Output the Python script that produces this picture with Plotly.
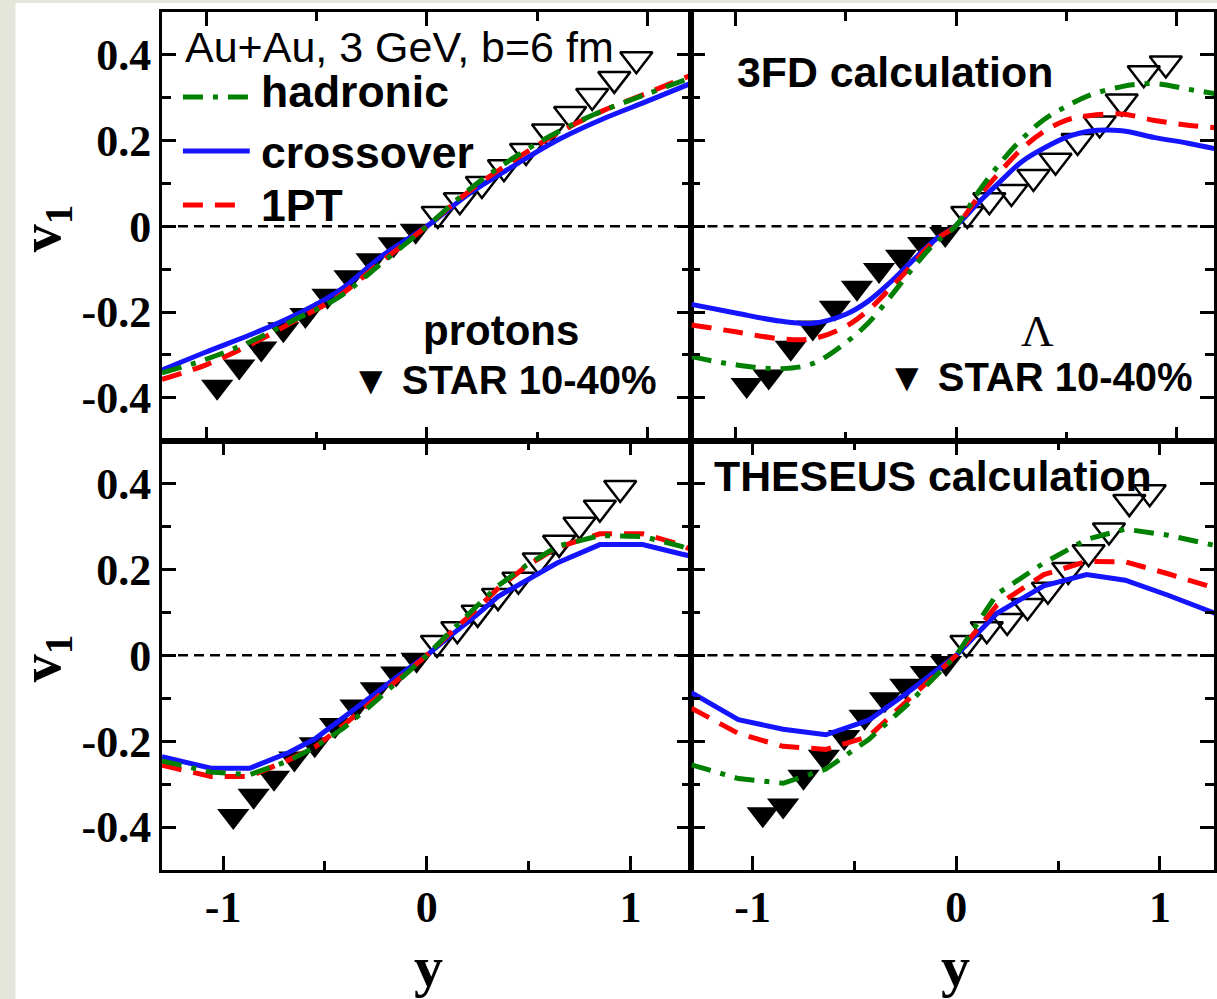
import plotly.graph_objects as go

# ---------------- data ----------------
star_x_neg = [-0.95, -0.85, -0.75, -0.65, -0.55, -0.45, -0.35, -0.25, -0.15, -0.05]
star_x_pos = [0.05, 0.15, 0.25, 0.35, 0.45, 0.55, 0.65, 0.75, 0.85, 0.95]
p_star_neg = [-0.374, -0.327, -0.285, -0.240, -0.207, -0.162, -0.119, -0.079, -0.042, -0.010]
p_star_pos = [0.029, 0.061, 0.099, 0.138, 0.176, 0.221, 0.262, 0.304, 0.344, 0.390]
l_star_neg = [-0.370, -0.350, -0.283, -0.236, -0.190, -0.143, -0.102, -0.071, -0.041, -0.018]
l_star_pos = [0.029, 0.061, 0.080, 0.115, 0.153, 0.199, 0.240, 0.291, 0.357, 0.380]

# 3FD, protons
x_3fd_p = [-1.2, -1.0, -0.8, -0.6, -0.4, -0.2, 0.0, 0.2, 0.4, 0.6, 0.8, 1.0, 1.2]
p3_cross = [-0.335, -0.293, -0.253, -0.208, -0.151, -0.068, 0.0, 0.079, 0.143, 0.203, 0.251, 0.292, 0.334]
p3_1pt = [-0.357, -0.323, -0.276, -0.221, -0.163, -0.080, 0.0, 0.085, 0.156, 0.219, 0.270, 0.311, 0.353]
p3_hadr = [-0.342, -0.310, -0.269, -0.218, -0.166, -0.084, 0.0, 0.089, 0.162, 0.222, 0.270, 0.309, 0.347]

# 3FD, Lambda
x_3fd_l = [-1.2, -1.0, -0.8, -0.65, -0.5, -0.4, -0.3, -0.2, -0.1, 0.0, 0.1, 0.2, 0.3, 0.4, 0.5, 0.6, 0.75, 0.9, 1.05, 1.2]
l3_cross = [-0.182, -0.202, -0.221, -0.226, -0.205, -0.175, -0.131, -0.081, -0.033, 0.002, 0.055, 0.105, 0.152, 0.183, 0.208, 0.222, 0.223, 0.207, 0.194, 0.178]
l3_1pt = [-0.230, -0.246, -0.262, -0.262, -0.233, -0.196, -0.145, -0.090, -0.034, 0.002, 0.068, 0.128, 0.182, 0.222, 0.248, 0.258, 0.262, 0.247, 0.236, 0.229]
l3_hadr = [-0.304, -0.323, -0.332, -0.320, -0.271, -0.226, -0.165, -0.100, -0.041, 0.002, 0.080, 0.148, 0.205, 0.250, 0.280, 0.305, 0.326, 0.333, 0.320, 0.307]

# THESEUS, protons
x_th_p = [-1.3, -1.06, -0.87, -0.68, -0.55, -0.41, -0.28, -0.14, 0.0, 0.12, 0.24, 0.35, 0.49, 0.64, 0.85, 1.06, 1.25, 1.3]
pt_cross = [-0.236, -0.263, -0.263, -0.227, -0.195, -0.147, -0.099, -0.048, 0.0, 0.047, 0.092, 0.137, 0.175, 0.215, 0.258, 0.258, 0.236, 0.231]
pt_1pt = [-0.256, -0.282, -0.282, -0.244, -0.214, -0.163, -0.112, -0.057, 0.0, 0.054, 0.105, 0.156, 0.208, 0.251, 0.283, 0.283, 0.258, 0.245]
pt_hadr = [-0.246, -0.272, -0.278, -0.246, -0.214, -0.170, -0.119, -0.061, 0.0, 0.057, 0.111, 0.162, 0.210, 0.254, 0.279, 0.277, 0.254, 0.245]

# THESEUS, Lambda
x_th_l = [-1.3, -1.07, -0.85, -0.64, -0.43, -0.24, 0.0, 0.2, 0.43, 0.64, 0.83, 1.04, 1.27]
lt_cross = [-0.087, -0.150, -0.172, -0.185, -0.151, -0.087, 0.0, 0.098, 0.162, 0.188, 0.175, 0.140, 0.098]
lt_1pt = [-0.123, -0.182, -0.212, -0.219, -0.189, -0.106, 0.0, 0.117, 0.188, 0.219, 0.218, 0.190, 0.157]
lt_hadr = [-0.255, -0.287, -0.298, -0.265, -0.196, -0.115, 0.0, 0.143, 0.215, 0.270, 0.294, 0.280, 0.256]

y_tickvals = [-0.4, -0.2, 0.0, 0.2, 0.4]
y_ticktext = ["-0.4", "-0.2", "0", "0.2", "0.4"]
x_tickvals = [-1, 0, 1]
x_ticktext = ["-1", "0", "1"]

# ---------------- styles ----------------
GREEN = "rgb(0,128,0)"
BLUE = "rgb(20,20,255)"
RED = "rgb(255,0,0)"
LW = 5
DASH_H = "20px,10px,5px,10px"
DASH_R = "20px,12px"

W, H = 1217, 999
ML, MT, MB = 162, 12, 129
PW = W - ML
PH = H - MT - MB


def pxx(px):
    return (px - ML) / PW


def pxy(py):
    return (H - MB - py) / PH


xsplit = pxx(693)
ysplit = pxy(440.7)

fig = go.Figure()

panels = [
    ("x", "y", x_3fd_p, p3_cross, p3_1pt, p3_hadr, p_star_neg, p_star_pos),
    ("x2", "y2", x_3fd_l, l3_cross, l3_1pt, l3_hadr, l_star_neg, l_star_pos),
    ("x3", "y3", x_th_p, pt_cross, pt_1pt, pt_hadr, p_star_neg, p_star_pos),
    ("x4", "y4", x_th_l, lt_cross, lt_1pt, lt_hadr, l_star_neg, l_star_pos),
]

for i, (xa, ya, xc, cr, op, hd, sneg, spos) in enumerate(panels):
    shape = "spline" if i < 2 else "linear"
    fig.add_trace(go.Scatter(x=star_x_neg, y=sneg, mode="markers", xaxis=xa, yaxis=ya,
                             marker=dict(symbol="triangle-down", size=28, color="black"),
                             name="STAR 10-40%", showlegend=False))
    fig.add_trace(go.Scatter(x=star_x_pos, y=spos, mode="markers", xaxis=xa, yaxis=ya,
                             marker=dict(symbol="triangle-down-open", size=28, color="black",
                                         line=dict(width=2.5, color="black")),
                             name="STAR reflected", showlegend=False))
    fig.add_trace(go.Scatter(x=xc, y=cr, mode="lines", xaxis=xa, yaxis=ya,
                             line=dict(color=BLUE, width=LW, shape=shape),
                             name="crossover", showlegend=False))
    fig.add_trace(go.Scatter(x=xc, y=op, mode="lines", xaxis=xa, yaxis=ya,
                             line=dict(color=RED, width=LW, dash=DASH_R, shape=shape),
                             name="1PT", showlegend=False))
    fig.add_trace(go.Scatter(x=xc, y=hd, mode="lines", xaxis=xa, yaxis=ya,
                             line=dict(color=GREEN, width=LW, dash=DASH_H, shape=shape),
                             name="hadronic", showlegend=False))

tick_font = dict(family="Liberation Serif", size=44, color="black", weight="bold")


def xax(domain, anchor, rng, labels):
    return dict(domain=domain, anchor=anchor, range=rng, showline=True, linecolor="black",
                linewidth=3, mirror="ticks", ticks="inside", ticklen=14, tickwidth=2.5,
                tickcolor="black", showgrid=False, zeroline=False,
                tickvals=x_tickvals, ticktext=x_ticktext, showticklabels=labels,
                tickfont=tick_font, ticklabelstandoff=-4,
                minor=dict(ticks="inside", ticklen=9, tickwidth=2.5, tickcolor="black",
                           dtick=0.5, tick0=0, showgrid=False))


def yax(domain, anchor, labels):
    return dict(domain=domain, anchor=anchor, range=[-0.5, 0.5], showline=True, linecolor="black",
                linewidth=3, mirror="ticks", ticks="inside", ticklen=14, tickwidth=2.5,
                tickcolor="black", showgrid=False, zeroline=False,
                tickvals=y_tickvals, ticktext=y_ticktext, showticklabels=labels,
                tickfont=tick_font, ticklabelstandoff=-1,
                minor=dict(ticks="inside", ticklen=9, tickwidth=2.5, tickcolor="black",
                           dtick=0.1, tick0=0, showgrid=False))


r_right_top = -1.2 + (W - 693) / ((693 - ML) / 2.4)
r_right_bot = -1.3 + (W - 693) / ((693 - ML) / 2.6)

fig.update_layout(
    width=W, height=H,
    margin=dict(l=ML, r=0, t=MT, b=MB, pad=0),
    paper_bgcolor="white", plot_bgcolor="white",
    showlegend=False,
    xaxis=xax([0, xsplit], "y", [-1.2, 1.2], False),
    yaxis=yax([ysplit, 1], "x", True),
    xaxis2=xax([xsplit, 1], "y2", [-1.2, r_right_top], False),
    yaxis2=yax([ysplit, 1], "x2", False),
    xaxis3=xax([0, xsplit], "y3", [-1.3, 1.3], True),
    yaxis3=yax([0, ysplit], "x3", True),
    xaxis4=xax([xsplit, 1], "y4", [-1.3, r_right_bot], True),
    yaxis4=yax([0, ysplit], "x4", False),
)

# zero reference lines
for xr, yr in [("x", "y"), ("x2", "y2"), ("x3", "y3"), ("x4", "y4")]:
    fig.add_shape(type="line", xref=xr + " domain", yref=yr, x0=0, x1=1, y0=0, y1=0,
                  line=dict(color="black", width=2.5, dash="10px,6px"), layer="below")

# beige page border
BEIGE = "#e4e6dc"
fig.add_shape(type="rect", xref="paper", yref="paper", x0=pxx(-5), x1=pxx(15), y0=pxy(1005), y1=pxy(-5),
              fillcolor=BEIGE, line=dict(width=0), layer="above")
fig.add_shape(type="rect", xref="paper", yref="paper", x0=pxx(-5), x1=pxx(1222), y0=pxy(3), y1=pxy(-5),
              fillcolor=BEIGE, line=dict(width=0), layer="above")

# legend samples
fig.add_shape(type="line", xref="paper", yref="paper", x0=pxx(183), x1=pxx(250), y0=pxy(97), y1=pxy(97),
              line=dict(color=GREEN, width=LW, dash=DASH_H))
fig.add_shape(type="line", xref="paper", yref="paper", x0=pxx(183), x1=pxx(250), y0=pxy(151), y1=pxy(151),
              line=dict(color=BLUE, width=LW))
fig.add_shape(type="line", xref="paper", yref="paper", x0=pxx(183), x1=pxx(242), y0=pxy(205), y1=pxy(205),
              line=dict(color=RED, width=LW, dash=DASH_R))

SANS = "Liberation Sans, Arial, DejaVu Sans"
SERIF = "Liberation Serif, Times New Roman, serif"


def text(t, px, py, size, bold=True, family=SANS, xanchor="left", angle=0):
    fig.add_annotation(text=t, xref="paper", yref="paper", x=pxx(px), y=pxy(py),
                       xanchor=xanchor, yanchor="middle", showarrow=False, textangle=angle,
                       borderpad=0,
                       font=dict(family=family, size=size, color="black",
                                 weight="bold" if bold else "normal"))


text("Au+Au, 3 GeV, b=6 fm", 184, 47, 43, bold=False)
text("hadronic", 260, 91, 44.5)
text("crossover", 260, 152, 44.5)
text("1PT", 260, 205, 44.5)
text("protons", 423, 330, 42)
text("▼ STAR 10-40%", 351, 380, 40)
text("3FD calculation", 738, 72, 42.8)
text("Λ", 1040, 331, 45, bold=False, family=SERIF, xanchor="center")
text("▼ STAR 10-40%", 888, 377, 40)
text("THESEUS calculation", 715, 476, 42.8)

text("v<sub>1</sub>", 45, 228, 56, family=SERIF, xanchor="center", angle=-90)
text("v<sub>1</sub>", 45, 658, 56, family=SERIF, xanchor="center", angle=-90)
text("y", 429, 966, 58, family=SERIF, xanchor="center")
text("y", 958, 966, 58, family=SERIF, xanchor="center")

NO_SCROLL = (
    "var s=document.createElement('style');"
    "s.textContent='html,body{margin:0;padding:0;overflow:hidden;}"
    "::-webkit-scrollbar{display:none;width:0;height:0;}';"
    "document.head.appendChild(s);"
    "document.documentElement.style.overflow='hidden';"
    "document.body.style.overflow='hidden';"
)

fig.write_html("out.html", post_script=NO_SCROLL)
